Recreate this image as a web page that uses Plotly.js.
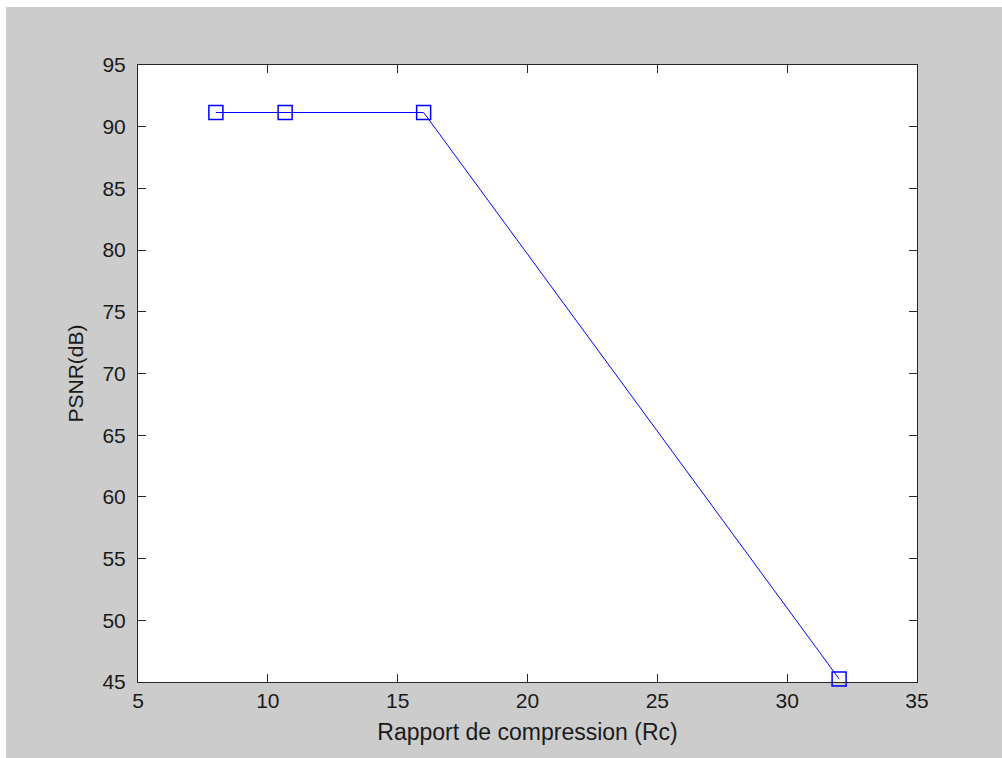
<!DOCTYPE html>
<html>
<head>
<meta charset="utf-8">
<script src="https://cdn.plot.ly/plotly-3.0.1.min.js"></script>
<style>
  html, body { margin: 0; padding: 0; background: #ffffff; }
  #chart { position: absolute; left: 6px; top: 7px; width: 996px; height: 751px; }
</style>
</head>
<body>
<div id="chart"></div>
<script>
// Compression ratio (Rc) against PSNR in dB
const compressionRatio = [8, 32 / 3, 16, 32];
const psnrDb = [91.15, 91.15, 91.15, 45.25];

const xTicks = [5, 10, 15, 20, 25, 30, 35];
const yTicks = [45, 50, 55, 60, 65, 70, 75, 80, 85, 90, 95];

const tickFont = { family: 'Liberation Sans, Arial, sans-serif', size: 21, color: '#1a1a1a' };
const xTitleFont = { family: 'Liberation Sans, Arial, sans-serif', size: 23, color: '#1a1a1a' };
const yTitleFont = { family: 'Liberation Sans, Arial, sans-serif', size: 21, color: '#1a1a1a' };

const trace = {
  x: compressionRatio,
  y: psnrDb,
  type: 'scatter',
  mode: 'lines+markers',
  line: { color: '#0000ff', width: 1 },
  marker: { symbol: 'square-open', size: 14, color: '#0000ff', line: { width: 1.5, color: '#0000ff' } },
  cliponaxis: false,
  hoverinfo: 'skip'
};

const commonAxis = {
  showgrid: false,
  zeroline: false,
  showline: true,
  linecolor: '#262626',
  linewidth: 1,
  mirror: 'ticks',
  ticks: 'inside',
  ticklen: 8,
  tickwidth: 1,
  tickcolor: '#262626',
  tickfont: tickFont,
  fixedrange: true
};

const layout = {
  width: 996,
  height: 751,
  paper_bgcolor: '#cccccc',
  plot_bgcolor: '#ffffff',
  margin: { l: 132, r: 85, t: 58, b: 76, pad: 0 },
  showlegend: false,
  xaxis: Object.assign({}, commonAxis, {
    range: [5, 35],
    tickmode: 'array',
    tickvals: xTicks,
    ticktext: xTicks.map(String),
    ticklabelstandoff: 0,
    title: { text: 'Rapport de compression (Rc)', font: xTitleFont, standoff: 12 }
  }),
  yaxis: Object.assign({}, commonAxis, {
    range: [45, 95],
    tickmode: 'array',
    tickvals: yTicks,
    ticktext: yTicks.map(String),
    ticklabelstandoff: 7,
    title: { text: 'PSNR(dB)', font: yTitleFont, standoff: 13 }
  })
};

Plotly.newPlot('chart', [trace], layout, { displayModeBar: false, staticPlot: true });
</script>
</body>
</html>
